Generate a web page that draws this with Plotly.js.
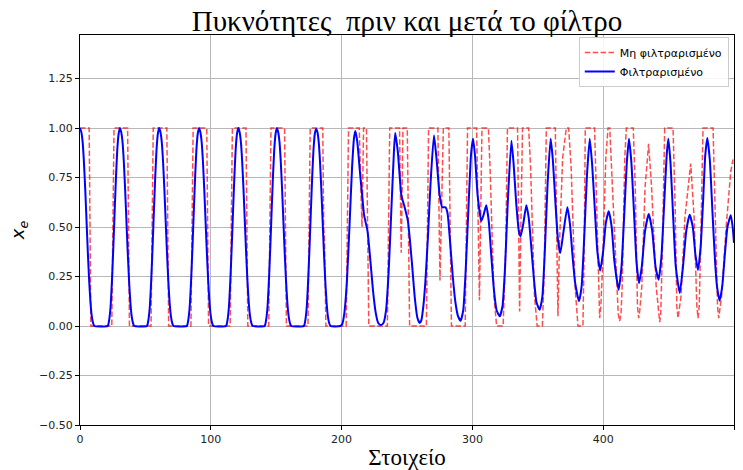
<!DOCTYPE html>
<html><head><meta charset="utf-8">
<script src="https://cdn.plot.ly/plotly-3.0.1.min.js"></script>
<style>html,body{margin:0;padding:0;background:#fff}#chart{width:743px;height:470px}</style>
</head><body><div id="chart"></div>
<script>
const seriesNames = ["Μη φιλτραρισμένο", "Φιλτραρισμένο"];
const xTicks = [0, 100, 200, 300, 400, 500];
const yTicks = [-0.5, -0.25, 0, 0.25, 0.5, 0.75, 1, 1.25];

const redX = [
  0,7,8.3, 24.3,26,36.4,37.8, 54.3,56,66.4,67.8, 84.8,86.5,96.9,98.3,
  114.8,116.5,126.9,128.3, 144.3,146,156.4,157.8, 174.3,176,185.6,186.3,186.9,188,
  203.5,205.3,213.5,215.6,216.8,219,220.8, 235,236.8,244.3,245.6,246.9,250.2,252,
  264.8,266.5,273.6,275.2,277.8,282,284,
  294.5,296.3,303.2,305.4,307.3,312.2,313.5,316.5,318.5,323.5,325.5,326.8,
  334.5,335.5,336.1,336.8,338.3,343,344.5,347.5,349.5,353.5,355,356.5,
  363.4,364.6,365.4,366.5,369,371.8,373.6,375.5,378.5,380.7,384.5,385.5,386.3,
  393.4,395,396.5,397.3,398.2,399.5,402,403.7,405,407,410.5,411.5,412.6,413.6,414.5,416.5,417.7,
  423,424.5,426.2,427.1,428,429.5,432,434.7,437,440.5,442.3,443.2,444,445.3,447,
  453.4,455,456.3,457.2,458.1,459.5,462.5,466.9,469.5,471.6,472.5,473.4,474.5,476.3,
  484,485.5,487.4,488.3,489.2,490.5,494,497.5,499.2,500
];
const redY = [
  1,1,0, 0,1,1,0, 0,1,1,0, 0,1,1,0,
  0,1,1,0, 0,1,1,0, 0,1,1,0.5,0.45,0,
  0,1,1,0.5,1,1,0, 0,1,1,0.37,1,1,0,
  0,1,1,0.23,1,1,0,
  0,1,1,0.13,1,1,0.8,0.15,0,0,0.4,1,
  1,0.4,0.074,0.4,1,1,0.8,0.15,0,0,0.3,1,
  1,0.4,0.05,0.4,0.85,1,1,0.8,0.2,0,0,0.4,1,
  1,0.6,0.12,0.04,0.1,0.3,0.85,1,1,0.7,0.15,0.06,0.025,0.06,0.2,0.85,1,
  1,0.7,0.1,0.04,0.08,0.2,0.7,0.92,0.7,0.2,0.05,0.02,0.06,0.4,1,
  1,0.6,0.1,0.04,0.08,0.15,0.55,0.82,0.55,0.1,0.04,0.1,0.4,1,
  1,0.6,0.1,0.04,0.08,0.15,0.5,0.78,0.84,0.82
];

const blueX = [
  0,1,2,3,4,5,6,7,8,9,10,11,
  21,21.5,22.5,23.5,24.5,25.5,26.5,27.5,28.5,29.5,30.5,31.5,32.5,33.5,34.5,35.5,36.5,37.5,38.5,39.5,40.5,41.5,
  51,51.5,52.5,53.5,54.5,55.5,56.5,57.5,58.5,59.5,60.5,61.5,62.5,63.5,64.5,65.5,66.5,67.5,68.5,69.5,70.5,71.5,
  81.5,82,83,84,85,86,87,88,89,90,91,92,93,94,95,96,97,98,99,100,101,102,
  111.5,112,113,114,115,116,117,118,119,120,121,122,123,124,125,126,127,128,129,130,131,132,
  141,141.5,142.5,143.5,144.5,145.5,146.5,147.5,148.5,149.5,150.5,151.5,152.5,153.5,154.5,155.5,156.5,157.5,158.5,159.5,160.5,161.5,
  171,171.5,172.5,173.5,174.5,175.5,176.5,177.5,178.5,179.5,180.5,181.5,182.5,183.5,184.5,185.5,186.5,187.5,188.5,189.5,190.5,191.5,
  199,200.5,202,204,206,208,209.5,210.5,
  212,214,216,217.2,219.8,222,224,226,228,230,232,234,236,238,240,241,
  243,245.7,248.2,250.7,252,254,256,258,259.7,261,262.5,264,266,268,270.6,
  272.5,275,276.9,279.4,281,283,285,287,289,291,293,295,297,299,300.5,
  302,304,306.8,308.5,310.6,312.5,314.5,316.5,318.5,320.9,323,325,327,329.8,
  331.5,333.5,335.5,336.9,339,341.2,343,345,347,349,351.4,353.5,355.5,357.5,359.8,
  361.5,363.5,365.5,367.2,369.5,372.6,374.5,376.5,378.5,381.5,383.5,385.5,387.5,389.7,
  391.5,393.5,395.5,397.7,400,402,404.2,406.5,408.5,411.8,414,416,418,419.7,
  421.5,423.5,425.5,427.4,429.5,432,434.8,437.5,440,442.4,444.5,446.5,448.5,449.8,
  451.5,453.5,455.5,458.5,461,463.5,466.1,468.5,470.5,472.5,474.5,476.5,478,479.6,
  481.5,483.5,485.5,487,489,491,493,495,497.5,499,500
];
const blueY = [
  1,0.98,0.93,0.83,0.69,0.53,0.37,0.23,0.12,0.05,0.015,0,
  0,0.005,0.04,0.11,0.24,0.4,0.58,0.75,0.89,0.97,1,0.98,0.93,0.83,0.69,0.53,0.37,0.23,0.12,0.05,0.015,0,
  0,0.005,0.04,0.11,0.24,0.4,0.58,0.75,0.89,0.97,1,0.98,0.93,0.83,0.69,0.53,0.37,0.23,0.12,0.05,0.015,0,
  0,0.005,0.04,0.11,0.24,0.4,0.58,0.75,0.89,0.97,1,0.98,0.93,0.83,0.69,0.53,0.37,0.23,0.12,0.05,0.015,0,
  0,0.005,0.04,0.11,0.24,0.4,0.58,0.75,0.89,0.97,1,0.98,0.93,0.83,0.69,0.53,0.37,0.23,0.12,0.05,0.015,0,
  0,0.005,0.04,0.11,0.24,0.4,0.58,0.75,0.89,0.97,1,0.98,0.93,0.83,0.69,0.53,0.37,0.23,0.12,0.05,0.015,0,
  0,0.005,0.04,0.11,0.24,0.4,0.58,0.75,0.89,0.97,0.995,0.98,0.93,0.83,0.69,0.53,0.37,0.23,0.12,0.05,0.015,0,
  0,0.01,0.06,0.22,0.5,0.8,0.95,0.985,
  0.93,0.78,0.64,0.56,0.48,0.33,0.18,0.07,0.015,0.005,0.015,0.08,0.28,0.58,0.88,0.975,
  0.88,0.66,0.6,0.53,0.45,0.3,0.14,0.04,0.015,0.03,0.1,0.22,0.45,0.72,0.963,
  0.85,0.66,0.6,0.6,0.57,0.42,0.25,0.12,0.05,0.027,0.08,0.3,0.6,0.87,0.946,
  0.86,0.66,0.53,0.56,0.61,0.53,0.35,0.18,0.08,0.049,0.1,0.3,0.62,0.936,
  0.82,0.62,0.48,0.453,0.52,0.61,0.55,0.4,0.24,0.12,0.082,0.15,0.4,0.72,0.946,
  0.84,0.62,0.43,0.369,0.47,0.6,0.52,0.36,0.22,0.125,0.2,0.45,0.75,0.946,
  0.82,0.6,0.38,0.28,0.38,0.52,0.58,0.5,0.33,0.183,0.3,0.55,0.82,0.946,
  0.83,0.58,0.32,0.217,0.3,0.48,0.566,0.48,0.3,0.234,0.35,0.6,0.86,0.946,
  0.82,0.55,0.3,0.167,0.3,0.48,0.562,0.5,0.36,0.284,0.4,0.65,0.86,0.95,
  0.84,0.58,0.33,0.2,0.128,0.2,0.36,0.5,0.56,0.5,0.42
];

const traces = [
  {x: redX, y: redY, type: 'scatter', mode: 'lines', name: seriesNames[0],
   line: {color: 'rgba(255,0,0,0.7)', width: 1.5, dash: '5.5px,2.4px'}},
  {x: blueX, y: blueY, type: 'scatter', mode: 'lines', name: seriesNames[1],
   line: {color: '#0000ff', width: 2, shape: 'spline', smoothing: 0.5}}
];

const axisFont = {family: 'DejaVu Sans, sans-serif', size: 11, color: '#222'};
const layout = {
  width: 743, height: 470,
  margin: {l: 80, r: 9, t: 35, b: 45},
  paper_bgcolor: '#fff', plot_bgcolor: '#fff',
  showlegend: true,
  title: {text: 'Πυκνότητες \u00a0πριν και μετά το φίλτρο',
          font: {family: 'Liberation Serif, serif', size: 29, color: '#000'},
          x: 0.5, xanchor: 'center', xref: 'paper', y: 0.955, yanchor: 'middle', yref: 'container'},
  xaxis: {
    range: [0, 500], tickvals: xTicks, ticktext: xTicks.map(String),
    ticks: 'outside', ticklen: 4, tickwidth: 1, tickcolor: '#000',
    showline: true, mirror: true, linecolor: '#000', linewidth: 1,
    showgrid: true, gridcolor: '#b8b8b8', gridwidth: 1, zeroline: false,
    tickfont: axisFont,
    title: {text: 'Στοιχείο', font: {family: 'Liberation Serif, serif', size: 23, color: '#000'}, standoff: 4}
  },
  yaxis: {
    range: [-0.5, 1.47], tickvals: yTicks, tickformat: '.2f',
    ticks: 'outside', ticklen: 4, tickwidth: 1, tickcolor: '#000',
    showline: true, mirror: true, linecolor: '#000', linewidth: 1,
    showgrid: true, gridcolor: '#b8b8b8', gridwidth: 1, zeroline: false,
    tickfont: axisFont,
    title: {text: '<i>x</i><sub><i>e</i></sub>', font: {family: 'DejaVu Sans, sans-serif', size: 18, color: '#000'}, standoff: 9}
  },
  legend: {
    x: 0.992, y: 0.995, xanchor: 'right', yanchor: 'top',
    bgcolor: 'rgba(255,255,255,0.85)', bordercolor: '#cccccc', borderwidth: 1,
    font: {family: 'DejaVu Sans, sans-serif', size: 11, color: '#000'},
    itemwidth: 30, tracegroupgap: 0
  }
};

Plotly.newPlot('chart', traces, layout, {staticPlot: true, displayModeBar: false});
</script>
</body></html>
